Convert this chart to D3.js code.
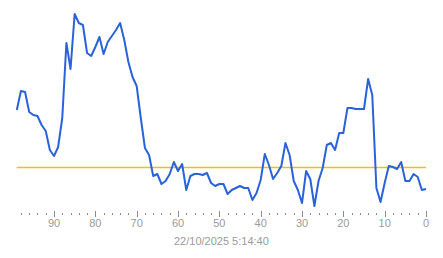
<!DOCTYPE html>
<html>
<head>
<meta charset="utf-8">
<script src="https://cdn.jsdelivr.net/npm/d3@7"></script>
<style>
  body { margin: 0; background: #fff; }
  svg { display: block; font-family: "Liberation Sans", Arial, sans-serif; }
  .tick-label { fill: #9a9a9a; font-size: 11px; }
</style>
</head>
<body>
<svg></svg>
<script>
    var vWidth = 443;
    var vHeight = 258;

    // seconds ago, 99 down to 0
    var secondsAgo = d3.range(99, -1, -1);
    var readings = [
        50, 59.5, 59, 49, 47.5, 47, 42.5, 39.5, 30, 27,
        31.5, 46, 83.5, 70.5, 98, 93.5, 92.5, 78.5, 77, 81.5,
        86.5, 78, 84, 87, 90, 93.5, 85, 74, 66.5, 62,
        46, 31, 27.5, 17, 18, 13, 14.5, 18, 24, 19.5,
        23, 10, 17, 18, 18, 17.5, 18.5, 13.5, 12, 13,
        13, 8, 10, 11, 12, 11, 11, 5, 8.5, 15,
        28, 22.5, 15.5, 18.5, 22, 33.5, 27.5, 14.5, 10, 3.5,
        19.5, 15.5, 2, 14.5, 21, 32.5, 33.5, 30, 38.5, 38.5,
        51, 51, 50.5, 50.5, 50.5, 65.5, 57.5, 11, 4, 13.5,
        22, 21.5, 20.5, 24, 14.5, 14.5, 18, 16.5, 10, 10.5
    ];
    var threshold = 21.3;
    var majorTicks = [90, 80, 70, 60, 50, 40, 30, 20, 10, 0];
    var minorTicks = d3.range(98, 0, -2).filter(function (d) { return d % 10 !== 0; });
    var timeLabel = '22/10/2025 5:14:40';

    var svg = d3.select('svg')
        .attr('width', vWidth)
        .attr('height', vHeight);

    var x = d3.scaleLinear().domain([99, 0]).range([16.8, 426]);
    var y = d3.scaleLinear().domain([0, 100]).range([210, 10]);

    // threshold line
    svg.append('line')
        .attr('x1', x(99)).attr('x2', x(0))
        .attr('y1', y(threshold))
        .attr('y2', y(threshold))
        .attr('stroke', '#f6bc14')
        .attr('stroke-width', 1.5);

    // value line
    var line = d3.line()
        .x(function (d, i) { return x(secondsAgo[i]); })
        .y(function (d) { return y(d); });

    svg.append('path')
        .datum(readings)
        .attr('d', line)
        .attr('fill', 'none')
        .attr('stroke', '#2962d9')
        .attr('stroke-width', 2)
        .attr('stroke-linejoin', 'round');

    // axis
    svg.selectAll('.minor')
        .data(minorTicks)
        .enter().append('rect')
        .attr('class', 'minor')
        .attr('x', function (d) { return Math.round(x(d)); })
        .attr('y', 213)
        .attr('width', 1)
        .attr('height', 2)
        .attr('fill', '#8a8a8a');

    svg.selectAll('.major')
        .data(majorTicks)
        .enter().append('rect')
        .attr('class', 'major')
        .attr('x', function (d) { return Math.round(x(d)); })
        .attr('y', 211)
        .attr('width', 1)
        .attr('height', 6)
        .attr('fill', '#8a8a8a');

    svg.selectAll('.tick-label')
        .data(majorTicks)
        .enter().append('text')
        .attr('class', 'tick-label')
        .attr('x', function (d) { return x(d); })
        .attr('y', 227)
        .attr('text-anchor', 'middle')
        .text(function (d) { return d; });

    svg.append('text')
        .attr('class', 'tick-label')
        .attr('x', (x(99) + x(0)) / 2)
        .attr('y', 245)
        .attr('text-anchor', 'middle')
        .text(timeLabel);
</script>
</body>
</html>
